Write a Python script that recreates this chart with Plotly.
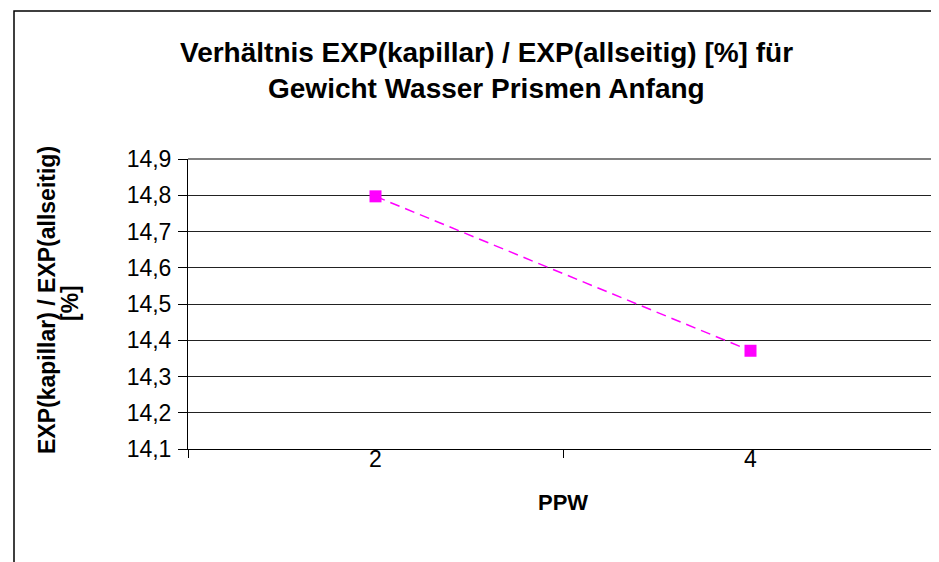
import plotly.graph_objects as go

# values
ppw = ["2", "4"]
ratio_pct = [14.797, 14.371]
y_ticks = [14.1, 14.2, 14.3, 14.4, 14.5, 14.6, 14.7, 14.8, 14.9]
y_tick_labels = ["14,1", "14,2", "14,3", "14,4", "14,5", "14,6", "14,7", "14,8", "14,9"]

TITLE_1 = "Verhältnis EXP(kapillar) / EXP(allseitig) [%] für"
TITLE_2 = "Gewicht Wasser Prismen Anfang"
Y_TITLE_1 = "EXP(kapillar) / EXP(allseitig)"
Y_TITLE_2 = "[%]"
FONT = "Liberation Sans, Arial, sans-serif"

# plot area in pixels: left 180, right 930, top 151, bottom 441
L, R, T, B = 180, 9, 151, 121
W, H = 939, 562
PW, PH = W - L - R, H - T - B


def px(x):
    return (x - L) / PW


def py(y):
    return (H - B - y) / PH


fig = go.Figure()
fig.add_trace(go.Scatter(
    x=ppw, y=ratio_pct, mode="lines+markers",
    line=dict(color="#FF00FF", width=1.5, dash="10px,6px"),
    marker=dict(symbol="square", size=12, color="#FF00FF"),
    showlegend=False, cliponaxis=False,
))

fig.update_xaxes(
    type="category", range=[-0.5, 1.5], tickson="boundaries",
    ticks="outside", ticklen=8, tickcolor="black",
    showline=True, linecolor="black", linewidth=1, showgrid=False,
    tickfont=dict(family=FONT, size=23, color="black"),
    ticklabelstandoff=-11,
)
fig.update_yaxes(
    range=[14.1, 14.9], tickmode="array", tickvals=y_ticks, ticktext=y_tick_labels,
    ticks="outside", ticklen=9, tickcolor="black",
    showline=True, linecolor="black", linewidth=1,
    showgrid=True, gridcolor="#222222", gridwidth=1,
    tickfont=dict(family=FONT, size=23, color="black"),
    ticklabelstandoff=2, zeroline=False,
)

bold = lambda s: f"<b>{s}</b>"
annotations = [
    dict(text=bold(TITLE_1), x=px(478), y=py(45)),
    dict(text=bold(TITLE_2), x=px(478), y=py(80)),
    dict(text=bold("PPW"), x=0.5, y=py(494), font=dict(family=FONT, size=22, color="black")),
    dict(text=bold(Y_TITLE_1), x=px(39), y=py(292), textangle=-90,
         font=dict(family=FONT, size=23, color="black")),
    dict(text=bold(Y_TITLE_2), x=px(62), y=py(295), textangle=-90,
         font=dict(family=FONT, size=23, color="black")),
]
for a in annotations:
    a.setdefault("font", dict(family=FONT, size=28, color="black"))
    a.update(xref="paper", yref="paper", showarrow=False, xanchor="center", yanchor="middle")

shapes = [
    # grey plot-area border (top and right)
    dict(type="line", xref="paper", yref="paper", x0=0, x1=1, y0=1, y1=1,
         line=dict(color="#808080", width=2), layer="above"),
    dict(type="line", xref="paper", yref="paper", x0=1, x1=1, y0=0, y1=1,
         line=dict(color="#808080", width=2), layer="above"),
    # chart-area frame (left and top edges visible)
    dict(type="rect", xref="paper", yref="paper", x0=px(6), x1=px(960), y0=py(600), y1=py(3),
         line=dict(color="black", width=1.5), layer="above"),
]

fig.update_layout(
    width=W, height=H, margin=dict(l=L, r=R, t=T, b=B),
    paper_bgcolor="white", plot_bgcolor="white",
    font=dict(family=FONT, color="black"),
    annotations=annotations, shapes=shapes,
)

fig.write_html("out.html")
